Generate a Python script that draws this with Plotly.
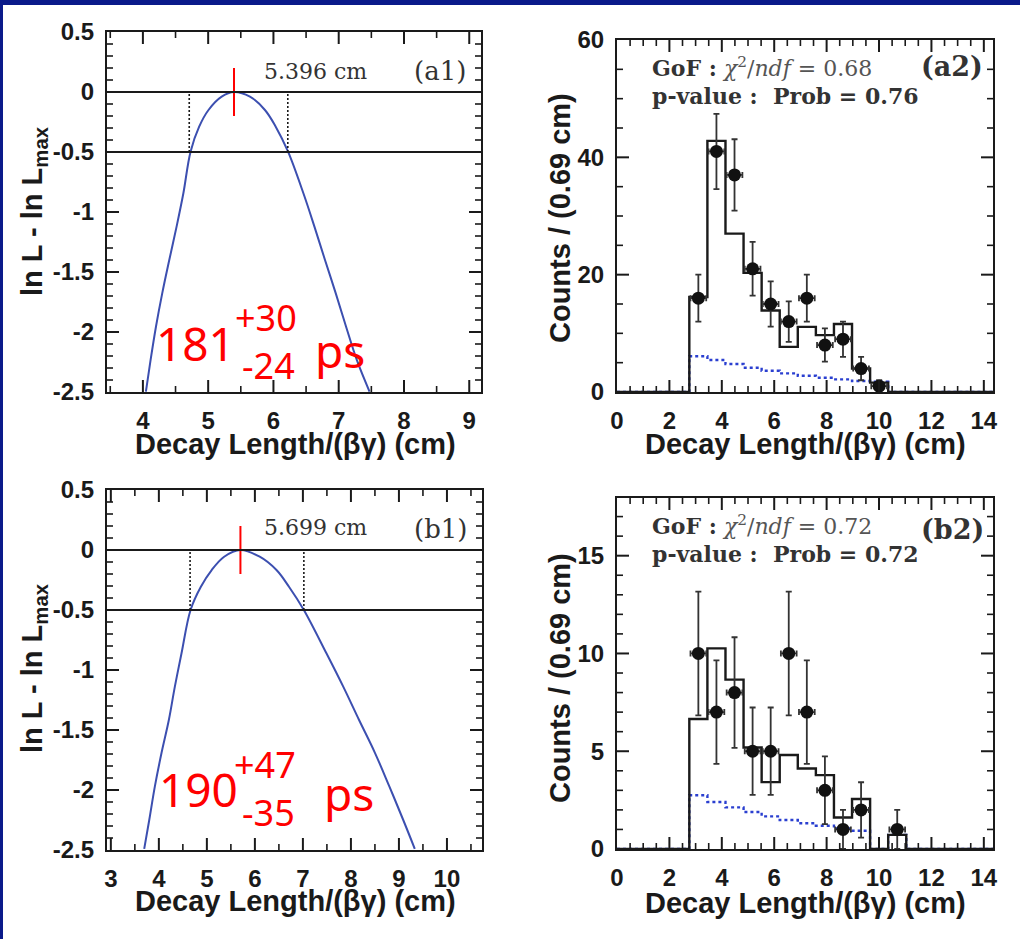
import numpy as np
import plotly.graph_objects as go

W, H = 1020, 939

# ---------------- data ----------------
# (a1) likelihood scan
a1_x = [4.046, 4.118, 4.200, 4.296, 4.404, 4.516, 4.620, 4.730, 4.862, 5.005, 5.207, 5.396,
        5.640, 5.870, 6.035, 6.224, 6.459, 6.628, 6.790, 6.955, 7.113, 7.277, 7.472]
a1_y = [-2.497, -2.233, -1.956, -1.678, -1.400, -1.122, -0.844, -0.497, -0.289, -0.150, -0.039, 0.0,
        -0.039, -0.150, -0.289, -0.497, -0.844, -1.122, -1.400, -1.678, -1.956, -2.233, -2.497]
a1_best, a1_lo, a1_hi = 5.396, 4.71, 6.22

# (b1) likelihood scan
b1_x = [3.695, 3.800, 3.917, 4.056, 4.208, 4.333, 4.472, 4.660, 4.875, 5.100, 5.360, 5.699,
        6.100, 6.450, 6.710, 7.020, 7.490, 7.840, 8.170, 8.500, 8.800, 9.090, 9.330]
b1_y = [-2.49, -2.25, -1.97, -1.69, -1.417, -1.139, -0.861, -0.5, -0.306, -0.167, -0.056, 0.0,
        -0.056, -0.167, -0.306, -0.5, -0.861, -1.139, -1.417, -1.69, -1.97, -2.25, -2.49]
b1_best, b1_lo, b1_hi = 5.699, 4.65, 7.02

# histogram binning
bin_start = 2.76
bin_width = 0.69
hist_max = 14.35

# (a2)
a2_counts = [16, 41, 37, 21, 15, 12, 16, 8, 9, 4, 1]
a2_fit = [16.2, 42.8, 27.0, 20.3, 13.9, 7.7, 11.1, 9.7, 11.6, 4.0, 1.6]
a2_bkg = [6.1, 5.45, 4.77, 4.14, 3.63, 3.18, 2.78, 2.44, 2.16, 1.87, 1.75]

# (b2)
b2_counts = [10, 7, 8, 5, 5, 10, 7, 3, 1, 2, 0, 1]
b2_fit = [6.65, 10.26, 8.66, 5.19, 3.42, 4.81, 4.12, 3.78, 1.61, 2.56, 0.0, 0.72]
b2_bkg = [2.75, 2.40, 2.13, 1.89, 1.67, 1.48, 1.32, 1.19, 1.05, 0.93, 0.0, 0.72]

lik_yticks = [0.5, 0, -0.5, -1, -1.5, -2, -2.5]
lik_ylabels = ["0.5", "0", "-0.5", "-1", "-1.5", "-2", "-2.5"]

# ---------------- styles ----------------
INK = "#1a1a1a"
CURVE = "#3c4fb0"
BKG = "#2a3fd0"
NAVY = "#0a1a8a"
TICKFONT = dict(family="Liberation Sans", size=24, color=INK, weight="bold")
TITLEFONT = dict(family="Liberation Sans", size=29, color=INK, weight="bold")
SERIF = "DejaVu Serif"
RED = "#ff0000"
MAJ_LEN, MIN_LEN = 10, 5

# panel geometry in pixels (left, right, top, bottom)
GEOM = {
    "a1": (107, 481, 32, 392),
    "a2": (617, 993, 40, 392),
    "b1": (107, 482, 490, 850),
    "b2": (617, 993, 498, 849),
}
RANGES = {
    "a1": ([3.45, 9.18], [-2.5, 0.5]),
    "a2": ([0, hist_max], [0, 60]),
    "b1": ([2.92, 10.73], [-2.5, 0.5]),
    "b2": ([0, hist_max], [0, 17.95]),
}
STEPS = {  # (x major, x minor, y major, y minor)
    "a1": (1, 0.5, 0.5, 0.1),
    "a2": (2, 0.5, 20, 5),
    "b1": (1, 0.5, 0.5, 0.1),
    "b2": (2, 0.5, 5, 1),
}
AX = {"a1": ("x", "y"), "a2": ("x2", "y2"), "b1": ("x3", "y3"), "b2": ("x4", "y4")}


def px(x, y):
    return x / W, 1 - y / H


def axis(rng, dom, anchor, dtick, tickvals=None, ticktext=None):
    d = dict(range=rng, domain=dom, anchor=anchor, showline=True, linecolor=INK,
             linewidth=2.2, mirror=True, ticks="", showgrid=False, zeroline=False,
             tickfont=TICKFONT, ticklabelstandoff=6)
    if tickvals is not None:
        d.update(tickmode="array", tickvals=tickvals, ticktext=ticktext)
    else:
        d.update(tickmode="linear", dtick=dtick, tick0=0)
    return d


fig = go.Figure()


def lik_panel(xs, ys, best, lo, hi, xa, ya):
    fig.add_trace(go.Scatter(x=xs, y=ys, mode="lines", line=dict(color=CURVE, width=2, shape="spline"),
                             xaxis=xa, yaxis=ya, showlegend=False, hoverinfo="skip"))
    for v in (lo, hi):
        fig.add_trace(go.Scatter(x=[v, v], y=[-0.5, 0], mode="lines",
                                 line=dict(color=INK, width=1.6, dash="2px,2px"),
                                 xaxis=xa, yaxis=ya, showlegend=False, hoverinfo="skip"))
    fig.add_trace(go.Scatter(x=[best, best], y=[-0.2, 0.2], mode="lines",
                             line=dict(color=RED, width=2),
                             xaxis=xa, yaxis=ya, showlegend=False, hoverinfo="skip"))
    xr = "x domain" if xa == "x" else xa + " domain"
    for lvl in (0, -0.5):
        fig.add_shape(type="line", xref=xr, x0=0, x1=1, yref=ya, y0=lvl, y1=lvl,
                      line=dict(color=INK, width=1.8))


def hist_panel(counts, fit, bkg, xa, ya):
    n = len(counts)
    edges = [bin_start + bin_width * k for k in range(n + 1)]
    xs = [0] + edges + [hist_max]
    yfit = [0] + list(fit) + [0, 0]
    ybkg = [0] + list(bkg) + [0, 0]
    fig.add_trace(go.Scatter(x=xs, y=ybkg, mode="lines",
                             line=dict(color=BKG, width=2.4, dash="3px,3px", shape="hv"),
                             xaxis=xa, yaxis=ya, showlegend=False, hoverinfo="skip"))
    fig.add_trace(go.Scatter(x=xs, y=yfit, mode="lines",
                             line=dict(color=INK, width=2.4, shape="hv"),
                             xaxis=xa, yaxis=ya, showlegend=False, hoverinfo="skip"))
    cx, cy, ce = [], [], []
    for k, c in enumerate(counts):
        if c > 0:
            cx.append(edges[k] + bin_width / 2)
            cy.append(c)
            ce.append(c ** 0.5)
    fig.add_trace(go.Scatter(x=cx, y=cy, mode="markers",
                             marker=dict(color="#111111", size=13),
                             error_y=dict(type="data", array=ce, color="#333333", thickness=1.8, width=3),
                             error_x=dict(type="constant", value=0.3, color="#333333", thickness=1.8, width=3),
                             xaxis=xa, yaxis=ya, showlegend=False, hoverinfo="skip"))


def tick_values(rng, step):
    lo = np.ceil(rng[0] / step - 1e-9) * step
    vals = np.arange(lo, rng[1] + 1e-9, step)
    return [round(float(v), 6) for v in vals if rng[0] + 1e-9 < v < rng[1] - 1e-9]


def frame_ticks(key):
    """Inside tick marks on all four sides, derived from the axis ranges and steps."""
    l, r, t, b = GEOM[key]
    xr, yr = RANGES[key]
    xmaj, xmin, ymaj, ymin = STEPS[key]
    xa, ya = AX[key]
    ux = (xr[1] - xr[0]) / (r - l)   # data units per pixel
    uy = (yr[1] - yr[0]) / (b - t)
    for step, length, width, major in ((xmaj, MAJ_LEN, 2, True), (xmin, MIN_LEN, 1.6, False)):
        vals = tick_values(xr, step)
        if not major:
            vals = [v for v in vals if abs(v / xmaj - round(v / xmaj)) > 1e-6]
        for ybase, sgn in ((yr[0], 1), (yr[1], -1)):
            yc = ybase + sgn * (length / 2) * uy
            fig.add_trace(go.Scatter(x=vals, y=[yc] * len(vals), mode="markers",
                                     marker=dict(symbol="line-ns", size=length,
                                                 line=dict(color=INK, width=width)),
                                     xaxis=xa, yaxis=ya, showlegend=False, hoverinfo="skip"))
    for step, length, width, major in ((ymaj, MAJ_LEN, 2, True), (ymin, MIN_LEN, 1.6, False)):
        vals = tick_values(yr, step)
        if not major:
            vals = [v for v in vals if abs(v / ymaj - round(v / ymaj)) > 1e-6]
        for xbase, sgn in ((xr[0], 1), (xr[1], -1)):
            xc = xbase + sgn * (length / 2) * ux
            fig.add_trace(go.Scatter(x=[xc] * len(vals), y=vals, mode="markers",
                                     marker=dict(symbol="line-ew", size=length,
                                                 line=dict(color=INK, width=width)),
                                     xaxis=xa, yaxis=ya, showlegend=False, hoverinfo="skip"))


lik_panel(a1_x, a1_y, a1_best, a1_lo, a1_hi, "x", "y")
hist_panel(a2_counts, a2_fit, a2_bkg, "x2", "y2")
lik_panel(b1_x, b1_y, b1_best, b1_lo, b1_hi, "x3", "y3")
hist_panel(b2_counts, b2_fit, b2_bkg, "x4", "y4")
for key in GEOM:
    frame_ticks(key)


def xdom(key):
    l, r, t, b = GEOM[key]
    return [l / W, r / W]


def ydom(key):
    l, r, t, b = GEOM[key]
    return [1 - b / H, 1 - t / H]


fig.update_layout(
    template="none",
    width=W, height=H, margin=dict(l=0, r=0, t=0, b=0, pad=0),
    paper_bgcolor="white", plot_bgcolor="white",
    xaxis=axis(RANGES["a1"][0], xdom("a1"), "y", 1),
    yaxis=axis(RANGES["a1"][1], ydom("a1"), "x", 0.5, lik_yticks, lik_ylabels),
    xaxis2=axis(RANGES["a2"][0], xdom("a2"), "y2", 2),
    yaxis2=axis(RANGES["a2"][1], ydom("a2"), "x2", 20),
    xaxis3=axis(RANGES["b1"][0], xdom("b1"), "y3", 1),
    yaxis3=axis(RANGES["b1"][1], ydom("b1"), "x3", 0.5, lik_yticks, lik_ylabels),
    xaxis4=axis(RANGES["b2"][0], xdom("b2"), "y4", 2),
    yaxis4=axis(RANGES["b2"][1], ydom("b2"), "x4", 5),
)

# navy frame bands
for x0, y0, x1, y1 in [(0, 0, W, 5), (0, 0, 3, H)]:
    fig.add_shape(type="rect", xref="paper", yref="paper",
                  x0=x0 / W, x1=x1 / W, y0=1 - y1 / H, y1=1 - y0 / H,
                  line=dict(width=0), fillcolor=NAVY, layer="above")

anns = []


def ann(x, y, text, font, angle=0, xanchor="center"):
    ax, ay = px(x, y)
    anns.append(dict(x=ax, y=ay, xref="paper", yref="paper", text=text, showarrow=False,
                     font=font, textangle=angle, xanchor=xanchor, yanchor="middle"))


# axis titles
xt = "Decay Length/(βγ) (cm)"
ann(295, 444, xt, TITLEFONT)
ann(805, 444, xt, TITLEFONT)
ann(295, 901, xt, TITLEFONT)
ann(805, 903, xt, TITLEFONT)
ann(34, 211, "ln L - ln L<sub>max</sub>", TITLEFONT, -90)
ann(34, 668, "ln L - ln L<sub>max</sub>", TITLEFONT, -90)
ann(560, 218, "Counts / (0.69 cm)", TITLEFONT, -90)
ann(560, 678, "Counts / (0.69 cm)", TITLEFONT, -90)

# panel texts
SF = dict(family=SERIF, size=22, color="#333333")
PF = dict(family=SERIF, size=26, color="#333333")
ann(315, 71, "5.396 cm", SF)
ann(440, 71, "(a1)", PF)
ann(315, 527, "5.699 cm", SF)
ann(440, 529, "(b1)", PF)
ann(952, 66, "(a2)", dict(family=SERIF, size=27, color="#333333", weight="bold"))
ann(952, 529, "(b2)", dict(family=SERIF, size=27, color="#333333", weight="bold"))

GF = dict(family=SERIF, size=22, color="#333333")
ann(650, 67, "<b>GoF :</b> <span style='color:#555'><i>χ</i><sup>2</sup>/<i>ndf</i> = 0.68</span>", GF, xanchor="left")
ann(650, 96, "<b>p-value :  Prob = 0.76</b>", GF, xanchor="left")
ann(650, 525, "<b>GoF :</b> <span style='color:#555'><i>χ</i><sup>2</sup>/<i>ndf</i> = 0.72</span>", GF, xanchor="left")
ann(650, 554, "<b>p-value :  Prob = 0.72</b>", GF, xanchor="left")

# red lifetime texts
BIG = dict(family="Noto Sans", size=46, color=RED)
SMALL = dict(family="Noto Sans", size=36, color=RED)
ann(195, 343, "181", BIG)
ann(266, 318, "+30", SMALL)
ann(268, 365, "-24", SMALL)
ann(340, 350, "ps", BIG)
ann(198, 789, "190", BIG)
ann(265, 764, "+47", SMALL)
ann(268, 812, "-35", SMALL)
ann(349, 793, "ps", BIG)

fig.update_layout(annotations=anns)

post = ("document.body.style.margin='0';document.body.style.padding='0';document.body.style.overflow='hidden';"
        "var gd=document.getElementById('{plot_id}');gd.style.position='absolute';"
        "gd.style.left='0px';gd.style.top='0px';")
fig.write_html("out.html", post_script=post, config={"displayModeBar": False})
